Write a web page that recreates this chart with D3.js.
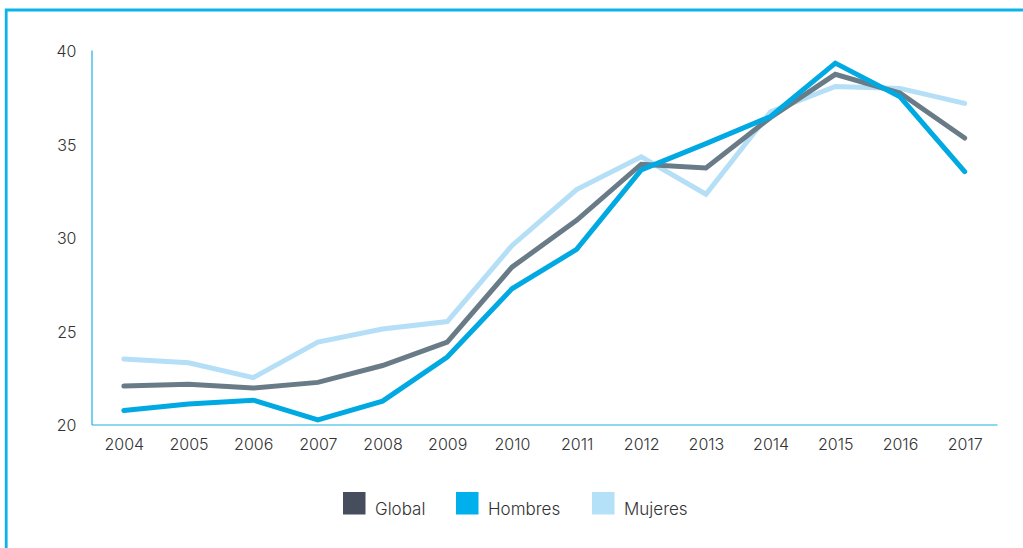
<!DOCTYPE html>
<html><head><meta charset="utf-8">
<script src="https://cdn.jsdelivr.net/npm/d3@7"></script>
<style>
html,body{margin:0;padding:0;background:#fff;}
svg{display:block;font-family:Inter,"Noto Sans",sans-serif;}
</style></head>
<body><svg id="c" width="1023" height="548"></svg>
<script>
const years = ["2004","2005","2006","2007","2008","2009","2010","2011","2012","2013","2014","2015","2016","2017"];
const globalVals  = [22.05,22.15,21.95,22.25,23.15,24.4,28.4,30.9,33.9,33.7,36.4,38.7,37.7,35.3];
const hombresVals = [20.75,21.1,21.3,20.25,21.25,23.6,27.25,29.35,33.6,35.0,36.45,39.3,37.5,33.5];
const mujeresVals = [23.5,23.3,22.5,24.4,25.1,25.5,29.55,32.55,34.3,32.3,36.7,38.05,37.95,37.15];
const yTicks = [20,25,30,35,40];
const seriesNames = ["Global","Hombres","Mujeres"];

(function(){
const lineColors = {Global:"#6a7b88", Hombres:"#00a9e2", Mujeres:"#b4dff6"};
const legendColors = {Global:"#464e5e", Hombres:"#00b0ec", Mujeres:"#b4e1f8"};
const FONT = "Inter, Noto Sans, sans-serif";

const svg = d3.select("#c");
const mLeft = 91.5, mRight = 997, mTop = 50, mBottom = 424.5;

svg.append("path").attr("d","M6.2,548 L6.2,10 L1023,10")
  .attr("fill","none").attr("stroke","#0bb3ea").attr("stroke-width",2.8);

const x = d3.scalePoint().domain(years).range([mLeft,mRight]).padding(0.5);
const y = d3.scaleLinear().domain([20,40]).range([mBottom,mTop]);

const yAxis = svg.append("g").attr("transform",`translate(${mLeft},0)`)
  .call(d3.axisLeft(y).tickValues(yTicks).tickSize(0).tickPadding(15));
yAxis.select(".domain").attr("stroke","#1ab0e6").attr("stroke-width",1.2);
yAxis.selectAll("text").attr("font-size",16).attr("fill","#333").attr("font-weight",300).attr("font-family",FONT).attr("dy","0.4em");

const xAxis = svg.append("g").attr("transform",`translate(0,${mBottom})`)
  .call(d3.axisBottom(x).tickSize(0).tickPadding(14));
xAxis.select(".domain").attr("stroke","#1ab0e6").attr("stroke-width",1.2);
xAxis.selectAll("text").attr("font-size",16).attr("fill","#333").attr("font-weight",300).attr("font-family",FONT);

const data = {Global:globalVals, Hombres:hombresVals, Mujeres:mujeresVals};
const line = d3.line().x((d,i)=>x(years[i])).y(d=>y(d));
["Mujeres","Global","Hombres"].forEach(k=>{
  svg.append("path").datum(data[k]).attr("d",line)
    .attr("fill","none").attr("stroke",lineColors[k]).attr("stroke-width",5)
    .attr("stroke-linejoin","miter").attr("stroke-linecap","round");
});

const legX = [343,456,592];
const lg = svg.append("g");
seriesNames.forEach((k,i)=>{
  lg.append("rect").attr("x",legX[i]).attr("y",492).attr("width",22.5).attr("height",22.5).attr("fill",legendColors[k]);
  lg.append("text").attr("x",legX[i]+32).attr("y",515).text(k)
    .attr("font-size",17).attr("fill","#333").attr("font-weight",300).attr("font-family",FONT);
});
})();
</script></body></html>
